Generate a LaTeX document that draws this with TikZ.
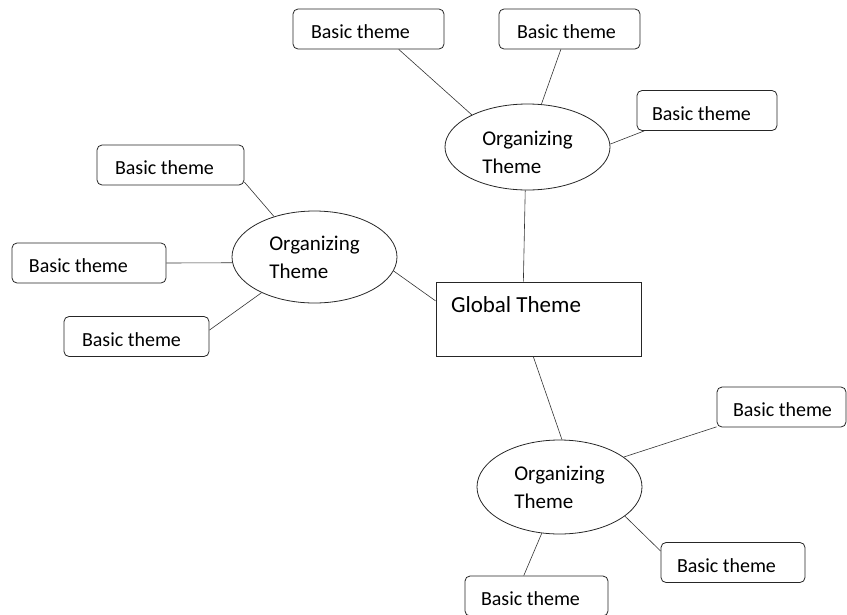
\documentclass[tikz,border=0pt]{standalone}
\usepackage{fontspec}
\setmainfont{Carlito}
\usetikzlibrary{shapes.geometric}

% left-padded text inside a box of fixed width (both in pt)
\newcommand\padtext[3]{\makebox[#1pt][l]{\hspace*{#2pt}#3}}

\tikzset{
  basic/.style={draw=black!85, line width=0.8pt, rounded corners=5pt,
    inner xsep=0pt, inner ysep=0pt, text height=29.5pt, text depth=10.5pt,
    font=\fontsize{20}{24}\selectfont},
  globalbox/.style={draw=black!85, line width=0.9pt, inner sep=0pt,
    text height=30pt, text depth=44pt, font=\fontsize{23}{27}\selectfont},
  organizing/.style={draw=black!85, line width=0.8pt, ellipse, inner sep=0pt,
    minimum width=165pt, align=left, font=\fontsize{21}{28}\selectfont},
  link/.style={draw=black!80, line width=0.6pt}
}

\begin{document}
\begin{tikzpicture}[x=1pt, y=-1pt]
\useasboundingbox (0,0) rectangle (847,614);

% central theme
\node[globalbox] (g) at (538.5,319) {\padtext{205}{15}{Global Theme}};

% organizing themes
\node[organizing, minimum height=86pt] (e1) at (527.5,147) {\rule{0pt}{25pt}Organizing\\Theme};
\node[organizing, minimum height=92pt] (e2) at (314.5,257) {Organizing\\Theme};
\node[organizing, minimum height=94pt] (e3) at (559.5,487) {Organizing\\Theme};

% basic themes around the top organizing theme
\node[basic] (b1) at (368.5,29)  {\padtext{151}{18}{Basic theme}};
\node[basic] (b2) at (569.5,29)  {\padtext{141}{18}{Basic theme}};
\node[basic] (b3) at (707,110.5) {\padtext{140}{15}{Basic theme}};

% basic themes around the left organizing theme
\node[basic] (b4) at (170.5,165) {\padtext{147}{18}{Basic theme}};
\node[basic] (b5) at (89,263)    {\padtext{154}{17}{Basic theme}};
\node[basic] (b6) at (136.5,336.5) {\padtext{145}{18}{Basic theme}};

% basic themes around the bottom organizing theme
\node[basic] (b7) at (781.5,407) {\padtext{129}{16}{Basic theme}};
\node[basic] (b8) at (733,562.5) {\padtext{144}{16}{Basic theme}};
\node[basic] (b9) at (536.5,596) {\padtext{143}{16}{Basic theme}};

% connectors
\draw[link] (b1.-34)  -- (e1.150);
\draw[link] (b2.-113) -- (e1.72.6);
\draw[link] (b3.198)  -- (e1.2);
\draw[link] (e1.-93)  -- (g.112.7);

\draw[link] (b4.-13.8) -- (e2.135.4);
\draw[link] (b5.east)  -- (e2.184);
\draw[link] (b6.5)     -- (e2.214.9);
\draw[link] (e2.-10.2) -- (g.170.6);

\draw[link] (g.-98.5)  -- (e3.87);
\draw[link] (e3.25.3)  -- (b7.197.5);
\draw[link] (e3.-24.6) -- (b8.171.6);
\draw[link] (e3.-111)  -- (b9.122.7);
\end{tikzpicture}
\end{document}
